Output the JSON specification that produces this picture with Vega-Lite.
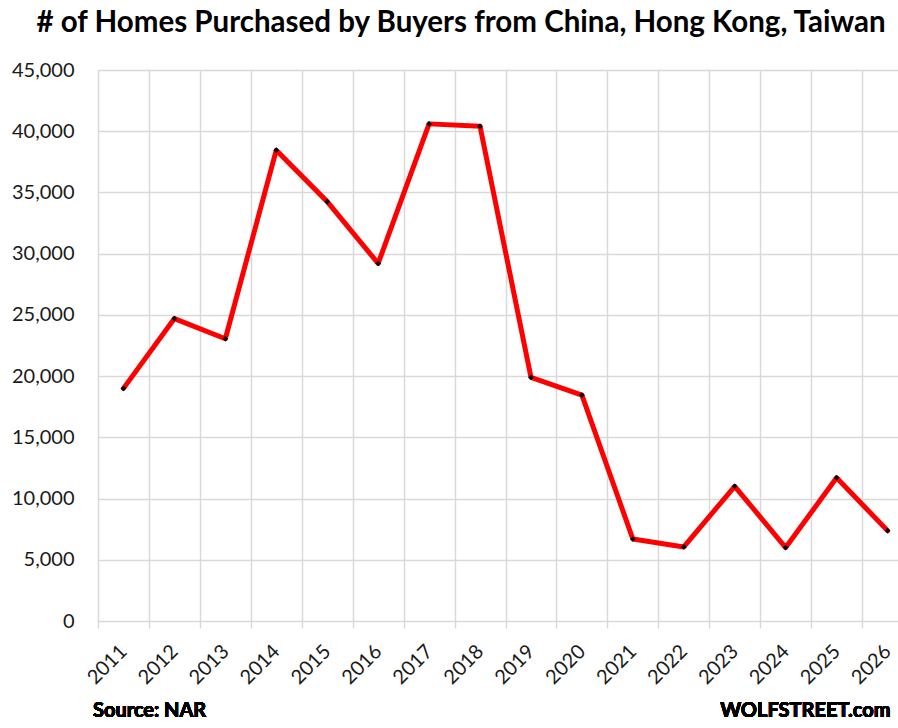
{
  "$schema": "https://vega.github.io/schema/vega-lite/v6.json",
  "width": 800,
  "height": 551,
  "autosize": {"type": "none"},
  "padding": {"left": 98, "top": 70, "right": 0, "bottom": 107},
  "background": "white",
  "title": {
    "text": "# of Homes Purchased by Buyers from China, Hong Kong, Taiwan",
    "font": "Lato",
    "fontSize": 29.5,
    "fontWeight": "bold",
    "color": "#000000",
    "anchor": "middle",
    "frame": "group",
    "dx": -37,
    "offset": 22
  },
  "config": {"view": {"stroke": null}, "font": "Lato"},
  "data": {
    "values": [
      {"year": "2011", "homes": 19000},
      {"year": "2012", "homes": 24700},
      {"year": "2013", "homes": 23050},
      {"year": "2014", "homes": 38450},
      {"year": "2015", "homes": 34250},
      {"year": "2016", "homes": 29200},
      {"year": "2017", "homes": 40600},
      {"year": "2018", "homes": 40400},
      {"year": "2019", "homes": 19900},
      {"year": "2020", "homes": 18450},
      {"year": "2021", "homes": 6700},
      {"year": "2022", "homes": 6050},
      {"year": "2023", "homes": 11000},
      {"year": "2024", "homes": 6000},
      {"year": "2025", "homes": 11700},
      {"year": "2026", "homes": 7380}
    ]
  },
  "encoding": {
    "x": {
      "field": "year",
      "type": "ordinal",
      "scale": {"type": "band", "paddingInner": 0, "paddingOuter": 0, "range": [0, 815]},
      "axis": {
        "title": null,
        "tickBand": "extent",
        "labelAngle": -45,
        "labelAlign": "right",
        "labelBaseline": "middle",
        "labelFont": "Lato",
        "labelFontSize": 20,
        "labelColor": "#1a1a1a",
        "labelPadding": 20,
        "tickSize": 7,
        "tickColor": "#d9d9d9",
        "tickWidth": 1.5,
        "domain": false,
        "grid": true,
        "gridColor": "#d9d9d9",
        "gridWidth": 1.5
      }
    },
    "y": {
      "field": "homes",
      "type": "quantitative",
      "scale": {"domain": [0, 45000], "nice": false, "zero": true},
      "axis": {
        "title": null,
        "values": [0, 5000, 10000, 15000, 20000, 25000, 30000, 35000, 40000, 45000],
        "format": ",.0f",
        "formatType": "number",
        "labelFont": "Lato",
        "labelFontSize": 20,
        "labelColor": "#1a1a1a",
        "labelPadding": 24,
        "ticks": false,
        "domain": false,
        "gridColor": "#d9d9d9",
        "gridWidth": 1.5
      }
    }
  },
  "layer": [
    {
      "mark": {"type": "line", "color": "#ff0000", "strokeWidth": 5, "strokeJoin": "round", "strokeCap": "round"}
    },
    {
      "mark": {"type": "point", "shape": "diamond", "filled": true, "color": "#000000", "opacity": 1, "size": 32}
    },
    {
      "mark": {"type": "text", "text": "Source: NAR", "align": "left", "baseline": "alphabetic", "font": "Lato", "fontWeight": "bold", "fontSize": 20, "color": "#000000", "dx": -5},
      "encoding": {
        "x": {"datum": "2011", "type": "ordinal", "bandPosition": 0},
        "y": {"datum": -7850, "type": "quantitative"}
      }
    },
    {
      "mark": {"type": "text", "text": "WOLFSTREET.com", "align": "right", "baseline": "alphabetic", "font": "Lato", "fontWeight": "bold", "fontSize": 20, "color": "#000000", "dx": 3},
      "encoding": {
        "x": {"datum": "2026", "type": "ordinal", "bandPosition": 0.5},
        "y": {"datum": -7850, "type": "quantitative"}
      }
    }
  ]
}
